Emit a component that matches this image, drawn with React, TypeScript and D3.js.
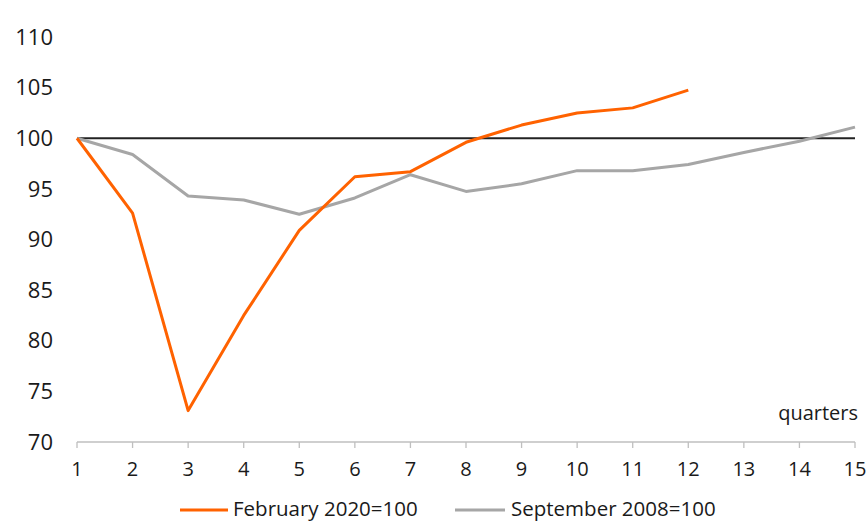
import React from "react";
import * as d3 from "d3";

const quarters = [1, 2, 3, 4, 5, 6, 7, 8, 9, 10, 11, 12, 13, 14, 15];
const feb2020 = [100, 92.6, 73.1, 82.5, 90.9, 96.2, 96.7, 99.6, 101.3, 102.5, 103.0, 104.75];
const sep2008 = [100, 98.4, 94.3, 93.9, 92.5, 94.1, 96.4, 94.75, 95.5, 96.8, 96.8, 97.4, 98.6, 99.7, 101.1];
const yTicks = [70, 75, 80, 85, 90, 95, 100, 105, 110];
const seriesNames = ["February 2020=100", "September 2008=100"];

const W = 867;
const H = 522;
const FONT = "'Open Sans', 'Noto Sans', sans-serif";

export default function App() {
  const x = d3.scaleLinear().domain([1, 15]).range([77, 855]);
  const y = d3.scaleLinear().domain([70, 110]).range([442, 37]);
  const line = d3
    .line<number>()
    .x((_, i) => x(quarters[i]))
    .y((d) => y(d));

  return (
    <svg
      width={W}
      height={H}
      style={{ position: "absolute", left: 0, top: 0, background: "#fff" }}
    >
      {yTicks.map((t) => (
        <text
          key={t}
          x={53}
          y={y(t)}
          dy="0.35em"
          textAnchor="end"
          fontFamily={FONT}
          fontSize={22}
          fill="#1a1a1a"
        >
          {t}
        </text>
      ))}
      <line x1={x(1)} x2={x(15)} y1={y(70)} y2={y(70)} stroke="#bfbfbf" strokeWidth={1.3} />
      {quarters.map((q) => (
        <g key={q}>
          <line x1={x(q)} x2={x(q)} y1={y(70)} y2={y(70) + 6} stroke="#bfbfbf" strokeWidth={1.3} />
          <text
            x={x(q)}
            y={y(70) + 27}
            dy="0.35em"
            textAnchor="middle"
            fontFamily={FONT}
            fontSize={20}
            fill="#1a1a1a"
          >
            {q}
          </text>
        </g>
      ))}
      <text x={858} y={413} dy="0.35em" textAnchor="end" fontFamily={FONT} fontSize={20} fill="#1a1a1a">
        quarters
      </text>
      <line x1={x(1)} x2={x(15)} y1={y(100)} y2={y(100)} stroke="#222" strokeWidth={2} />
      <path d={line(sep2008) || ""} fill="none" stroke="#a6a6a6" strokeWidth={3} strokeLinejoin="round" />
      <path d={line(feb2020) || ""} fill="none" stroke="#ff6200" strokeWidth={3} strokeLinejoin="round" />
      <line x1={180} x2={228} y1={510} y2={510} stroke="#ff6200" strokeWidth={3} />
      <text x={233} y={509} dy="0.35em" fontFamily={FONT} fontSize={20.5} fill="#1a1a1a">
        {seriesNames[0]}
      </text>
      <line x1={455} x2={505} y1={510} y2={510} stroke="#a6a6a6" strokeWidth={3} />
      <text x={511} y={509} dy="0.35em" fontFamily={FONT} fontSize={20.5} fill="#1a1a1a">
        {seriesNames[1]}
      </text>
    </svg>
  );
}
